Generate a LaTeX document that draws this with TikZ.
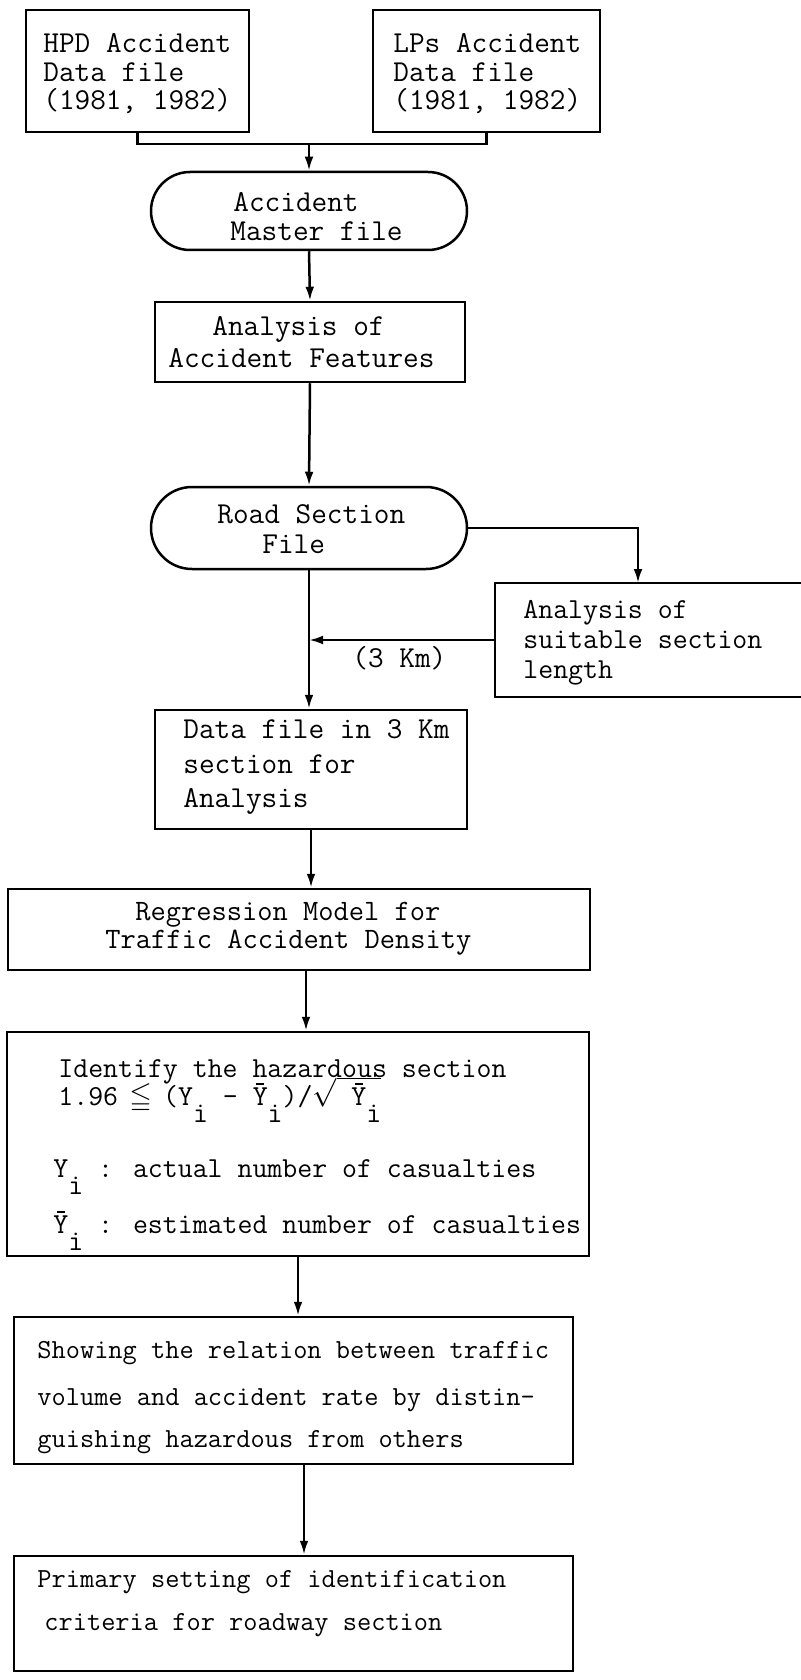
\documentclass[tikz,border=0pt]{standalone}
\usepackage{fontspec}
\usepackage{amssymb}
\usetikzlibrary{fit,arrows.meta}
\newcommand\ybar{\leavevmode\rlap{\hbox to 0.525em{\hss\raisebox{0.7em}{\rule{0.28em}{0.06em}}\hss}}Y}
\newcommand\lowi{\raisebox{-0.6em}{i}}
\begin{document}
\begin{tikzpicture}[x=0.5pt,y=-0.5pt,
  box/.style={draw,line width=1.25pt,inner sep=0pt},
  stad/.style={box,rounded corners=19.5pt},
  t/.style={font=\ttfamily\fontsize{15.2}{14}\selectfont,inner sep=0pt,anchor=base west},
  tr/.style={t,font=\ttfamily\fontsize{14.8}{14}\selectfont},
  ti/.style={t,font=\ttfamily\fontsize{14.5}{14}\selectfont},
  ts/.style={t,font=\ttfamily\fontsize{13.8}{14}\selectfont},
  arr/.style={line width=1.25pt,-{Latex[length=7pt,width=4.4pt]}},
  ln/.style={line width=1.25pt}]
\useasboundingbox (0,0) rectangle (801,1680);
\clip (0,0) rectangle (801,1680);
\fill[white] (0,0) rectangle (801,1680);

% boxes
\node[box,fit={(26,10)(249,132)}] (hpd) {};
\node[box,fit={(373,10)(600,132)}] (lps) {};
\node[stad,fit={(151,172)(467,250)}] (master) {};
\node[box,fit={(155,302)(465,382)}] (feat) {};
\node[stad,rounded corners=20.5pt,fit={(151,487)(467,569)}] (road) {};
\node[box,fit={(495,583)(840,697)}] (suit) {};
\node[box,fit={(155,710)(467,829)}] (data) {};
\node[box,fit={(8,889)(590,970)}] (reg) {};
\node[box,fit={(7,1032)(589,1256)}] (ident) {};
\node[box,fit={(14,1317)(573,1464)}] (show) {};
\node[box,fit={(14,1556)(573,1671)}] (prim) {};

% texts
\node[t] (hpd1) at (43,53) {HPD Accident};
\node[t] (hpd2) at (43,82) {Data file};
\node[t] (hpd3) at (43,110) {(1981, 1982)};
\node[t] (lps1) at (393,53) {LPs Accident};
\node[t] (lps2) at (393,82) {Data file};
\node[t] (lps3) at (393,110) {(1981, 1982)};
\node[t] (ms1) at (233,212) {Accident};
\node[t] (ms2) at (230,241) {Master file};
\node[t] (ft1) at (212,335) {Analysis of};
\node[t] (ft2) at (168,367) {Accident Features};
\node[t] (rd1) at (217,523) {Road Section};
\node[t] (rd2) at (262,553) {File};
\node[ti] (su1) at (523,618) {Analysis of};
\node[ti] (su2) at (523,648) {suitable section};
\node[ti] (su3) at (523,678) {length};
\node[t] (km) at (352,667) {(3 Km)};
\node[t] (da1) at (183,738) {Data file in 3 Km};
\node[t] (da2) at (183,773) {section for};
\node[t] (da3) at (183,807) {Analysis};
\node[tr] (rg1) at (135,920) {Regression Model for};
\node[tr] (rg2) at (105,948) {Traffic Accident Density};
\node[ti] (id1) at (58,1077) {Identify the hazardous section};
\node[ti] (id2) at (58,1105) {1.96 \makebox[0.525em]{$\leqq$} (Y\lowi{} - \ybar\lowi)/$\sqrt{\hbox{\ \ybar\smash{\lowi}}}$};
\node[ti] (id3) at (53,1177) {Y\lowi{} : actual number of casualties};
\node[ti] (id4) at (53,1233) {\ybar\lowi{} : estimated number of casualties};
\node[ts] (sh1) at (37,1358) {Showing the relation between traffic};
\node[ts] (sh2) at (37,1405) {volume and accident rate by distin-};
\node[ts] (sh3) at (37,1447) {guishing hazardous from others};
\node[ts] (pr1) at (37,1587) {Primary setting of identification};
\node[ts] (pr2) at (44,1630) {criteria for roadway section};

% connectors
\coordinate (jn) at (309,144);
\draw[ln] (hpd.south) |- (jn) -| (lps.south);
\draw[arr] (jn) -- (master.north);
\draw[arr] (master.south) -- (feat.north);
\draw[arr] (feat.south) -- (road.north);
\coordinate (sj) at (638,583);
\draw[arr] (road.east) -| (sj);
\draw[arr] (road.south) -- (road.south |- data.north);
\draw[arr] (suit.west) -- (suit.west -| road.south);
\draw[arr] (data.south) -- (data.south |- reg.north);
\coordinate (axA) at (306,1000);
\draw[arr] (reg.south -| axA) -- (ident.north -| axA);
\coordinate (axB) at (298,1290);
\draw[arr] (ident.south -| axB) -- (show.north -| axB);
\coordinate (axC) at (304,1500);
\draw[arr] (show.south -| axC) -- (prim.north -| axC);
\end{tikzpicture}
\end{document}
